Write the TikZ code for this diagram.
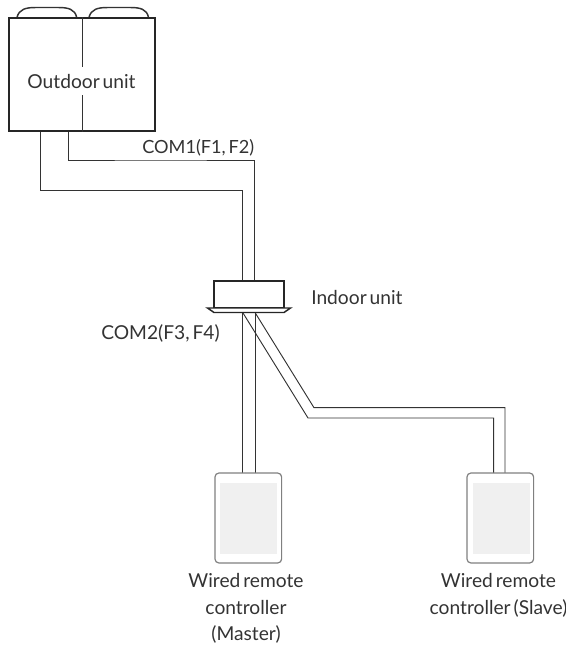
\documentclass[tikz,border=0pt]{standalone}
\usepackage{fontspec}
\setmainfont[WordSpace=0.6]{Lato}
\definecolor{inkdark}{HTML}{333333}
\definecolor{pipegray}{HTML}{333333}
\begin{document}
\begin{tikzpicture}[x=0.75pt, y=-0.75pt,
      every node/.style={font=\fontsize{14.4pt}{20pt}\selectfont, text=inkdark},
      unit/.style={draw=black!85, line width=1.4pt, inner sep=0pt, fill=white},
      pipe/.style={draw=pipegray, line width=0.7pt},
      remote/.style={draw=black!50, line width=0.9pt, rounded corners=3pt, fill=white,
                     minimum width=50pt, minimum height=67.5pt, inner sep=0pt},
      screen/.style={fill=black!6, minimum width=42.5pt, minimum height=53.5pt, inner sep=0pt},
      caption/.style={align=center, inner sep=0pt}]
    \useasboundingbox (0,0) rectangle (566,645);
    % ports on the units
    \coordinate (oleft)  at (40.5,131);
    \coordinate (oright) at (68,131);
    \coordinate (ileft)  at (242.5,281);
    \coordinate (iright) at (254.5,281);
    \coordinate (dleft)  at (242.7,312.5);
    \coordinate (dright) at (255,312.5);
    \coordinate (mleft)  at (242.7,473);
    \coordinate (mright) at (255,473);
    \coordinate (sleft)  at (493.7,473);
    \coordinate (sright) at (505,473);
    \coordinate (bendl)  at (308,418);
    \coordinate (bendr)  at (314,407.7);
    % wiring
    \draw[pipe] (oleft)  |- (190.5,190.5) -| (ileft);
    \draw[pipe] (oright) |- (160,160) -| (iright);
    \draw[pipe] (dleft)  -- (mleft);
    \draw[pipe] (dright) -- (mright);
    \draw[pipe] (dleft)  -- (bendl) -| (sleft);
    \draw[pipe] (dright) -- (bendr) -| (sright);
    % outdoor unit
    \draw[line width=1.1pt, black!80] (17,17.5) .. controls (19,9) and (26,7.5) .. (36,7.5)
      -- (58,7.5) .. controls (68,7.5) and (75,9) .. (76.7,17.5);
    \draw[line width=1.1pt, black!80] (89,17.5) .. controls (91,9) and (98,7.5) .. (108,7.5)
      -- (130,7.5) .. controls (140,7.5) and (147,9) .. (148.5,17.5);
    \node[unit, minimum width=109pt, minimum height=84.5pt] (outdoor) at (82,74.5) {};
    \draw[pipe] (outdoor.north) -- (outdoor.south);
    \node[inner sep=0pt, fill=white, minimum height=21pt] (outlabel) at (81.5,81.5) {Outdoor unit};
    % indoor unit
    \node[unit, minimum width=52pt, minimum height=20pt] (indoor) at (249,294.5) {};
    \filldraw[fill=white, draw=black!85, line width=1.1pt, line join=miter]
      (207.5,308) -- (290.5,308) -- (284,312.5) -- (214,312.5) -- cycle;
    \node[inner sep=0pt, anchor=west] (indoorlabel) at (311,298) {Indoor unit};
    % remote controllers
    \node[remote] (master) at (248.3,518) {};
    \node[screen] (masterscreen) at (248.5,518.5) {};
    \node[remote] (slave) at (500.3,518) {};
    \node[screen] (slavescreen) at (501.5,518.5) {};
    % captions
    \node[inner sep=0pt, anchor=west, font=\fontsize{13.6pt}{20pt}\selectfont] (comone) at (142,148) {COM1(F1, F2)};
    \node[inner sep=0pt, anchor=west] (comtwo) at (101,333) {COM2(F3, F4)};
    \node[caption, anchor=north] (masterlabel) at (246,573) {Wired remote\\controller\\(Master)};
    \node[caption, anchor=north] (slavelabel) at (498.5,573) {Wired remote\\controller (Slave)};
  \end{tikzpicture}
\end{document}
